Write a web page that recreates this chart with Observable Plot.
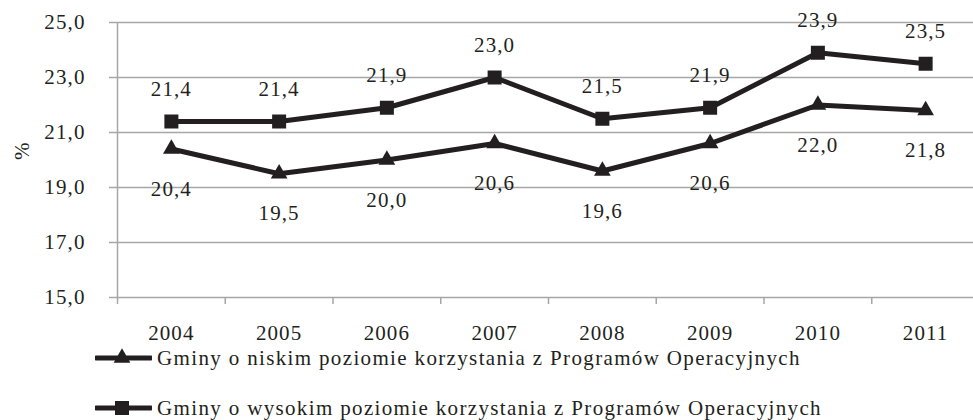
<!DOCTYPE html>
<html>
<head>
<meta charset="utf-8">
<script src="https://cdn.jsdelivr.net/npm/d3@7"></script>
<script src="https://cdn.jsdelivr.net/npm/@observablehq/plot@0.6"></script>
<style>
  body { margin: 0; background: #fff; font-family: "Liberation Serif", serif; }
  #chart { width: 973px; }
  #chart svg text { letter-spacing: 1.1px; }
  .legend-row { display: flex; align-items: center; height: 26px; padding-left: 95px; font-size: 21px; letter-spacing: 1.35px; color: #231f20; white-space: nowrap; }
  .legend-row svg { margin-right: 5px; flex: none; }
</style>
</head>
<body>
<div id="chart"></div>
<div id="legend"></div>
<script>
const years = [2004, 2005, 2006, 2007, 2008, 2009, 2010, 2011];
const lowValues = [20.4, 19.5, 20.0, 20.6, 19.6, 20.6, 22.0, 21.8];
const highValues = [21.4, 21.4, 21.9, 23.0, 21.5, 21.9, 23.9, 23.5];
const lowLabel = "Gminy o niskim poziomie korzystania z Programów Operacyjnych";
const highLabel = "Gminy o wysokim poziomie korzystania z Programów Operacyjnych";
const yTicks = [15, 17, 19, 21, 23, 25];
const yTitle = "%";

const fmt = d => d.toFixed(1).replace(".", ",");
const low = years.map((year, i) => ({year, value: lowValues[i]}));
const high = years.map((year, i) => ({year, value: highValues[i]}));
const boundaries = d3.range(years[0] - 0.5, years[years.length - 1] + 1, 1);

const ink = "#231f20";
const grid = "#a6a6a6";
const font = "Liberation Serif";
const textOpts = {fill: ink, fontSize: 21, fontFamily: font, fontVariant: "normal"};

const chart = Plot.plot({
  width: 973,
  height: 345,
  marginLeft: 117,
  marginRight: -6,
  marginTop: 22,
  marginBottom: 48,
  style: {fontFamily: font, fontSize: "21px", color: ink, background: "#fff"},
  x: {type: "linear", domain: [years[0] - 0.5, years[years.length - 1] + 0.5]},
  y: {domain: [15, 25]},
  marks: [
    Plot.gridY(yTicks, {stroke: grid, strokeOpacity: 1, strokeWidth: 1.5}),
    Plot.axisY(yTicks, {tickSize: 8, stroke: grid, strokeWidth: 1.5, tickFormat: () => "", label: null}),
    Plot.text(yTicks, {...textOpts, y: d => d, frameAnchor: "left", textAnchor: "end", dx: -32, text: fmt}),
    Plot.ruleX([boundaries[0]], {stroke: grid, strokeWidth: 1.5}),
    Plot.axisX(boundaries, {tickSize: 7, stroke: grid, strokeWidth: 1.5, tickFormat: () => "", label: null}),
    Plot.axisX(years, {...textOpts, tickSize: 0, tickPadding: 28, tickFormat: d => String(d), label: null}),
    Plot.text([yTitle], {...textOpts, frameAnchor: "left", dx: -95, rotate: -90}),
    Plot.lineY(low, {x: "year", y: "value", stroke: ink, strokeWidth: 5}),
    Plot.lineY(high, {x: "year", y: "value", stroke: ink, strokeWidth: 5}),
    Plot.dot(low, {x: "year", y: "value", symbol: "triangle", r: 6.2, fill: ink}),
    Plot.dot(high, {x: "year", y: "value", symbol: "square", r: 7.9, fill: ink}),
    Plot.text(high, {...textOpts, x: "year", y: "value", text: d => fmt(d.value), dy: -32}),
    Plot.text(low, {...textOpts, x: "year", y: "value", text: d => fmt(d.value), dy: 40})
  ]
});
document.getElementById("chart").appendChild(chart);

function swatch(symbol) {
  const ns = "http://www.w3.org/2000/svg";
  const svg = document.createElementNS(ns, "svg");
  svg.setAttribute("width", 57);
  svg.setAttribute("height", 26);
  const line = document.createElementNS(ns, "line");
  line.setAttribute("x1", 1); line.setAttribute("x2", 56);
  line.setAttribute("y1", 13); line.setAttribute("y2", 13);
  line.setAttribute("stroke", ink); line.setAttribute("stroke-width", 5);
  line.setAttribute("stroke-linecap", "round");
  svg.appendChild(line);
  const path = document.createElementNS(ns, "path");
  const size = symbol === "square" ? Math.PI * 7.9 * 7.9 : Math.PI * 6.2 * 6.2;
  const sym = symbol === "square" ? d3.symbolSquare : d3.symbolTriangle;
  path.setAttribute("d", d3.symbol(sym, size)());
  path.setAttribute("transform", "translate(27,13)");
  path.setAttribute("fill", ink);
  svg.appendChild(path);
  return svg;
}
const legend = document.getElementById("legend");
[[lowLabel, "triangle", 0], [highLabel, "square", 24]].forEach(([label, sym, mt]) => {
  const row = document.createElement("div");
  row.className = "legend-row";
  row.style.marginTop = mt + "px";
  row.appendChild(swatch(sym));
  const span = document.createElement("span");
  span.textContent = label;
  row.appendChild(span);
  legend.appendChild(row);
});
</script>
</body>
</html>
